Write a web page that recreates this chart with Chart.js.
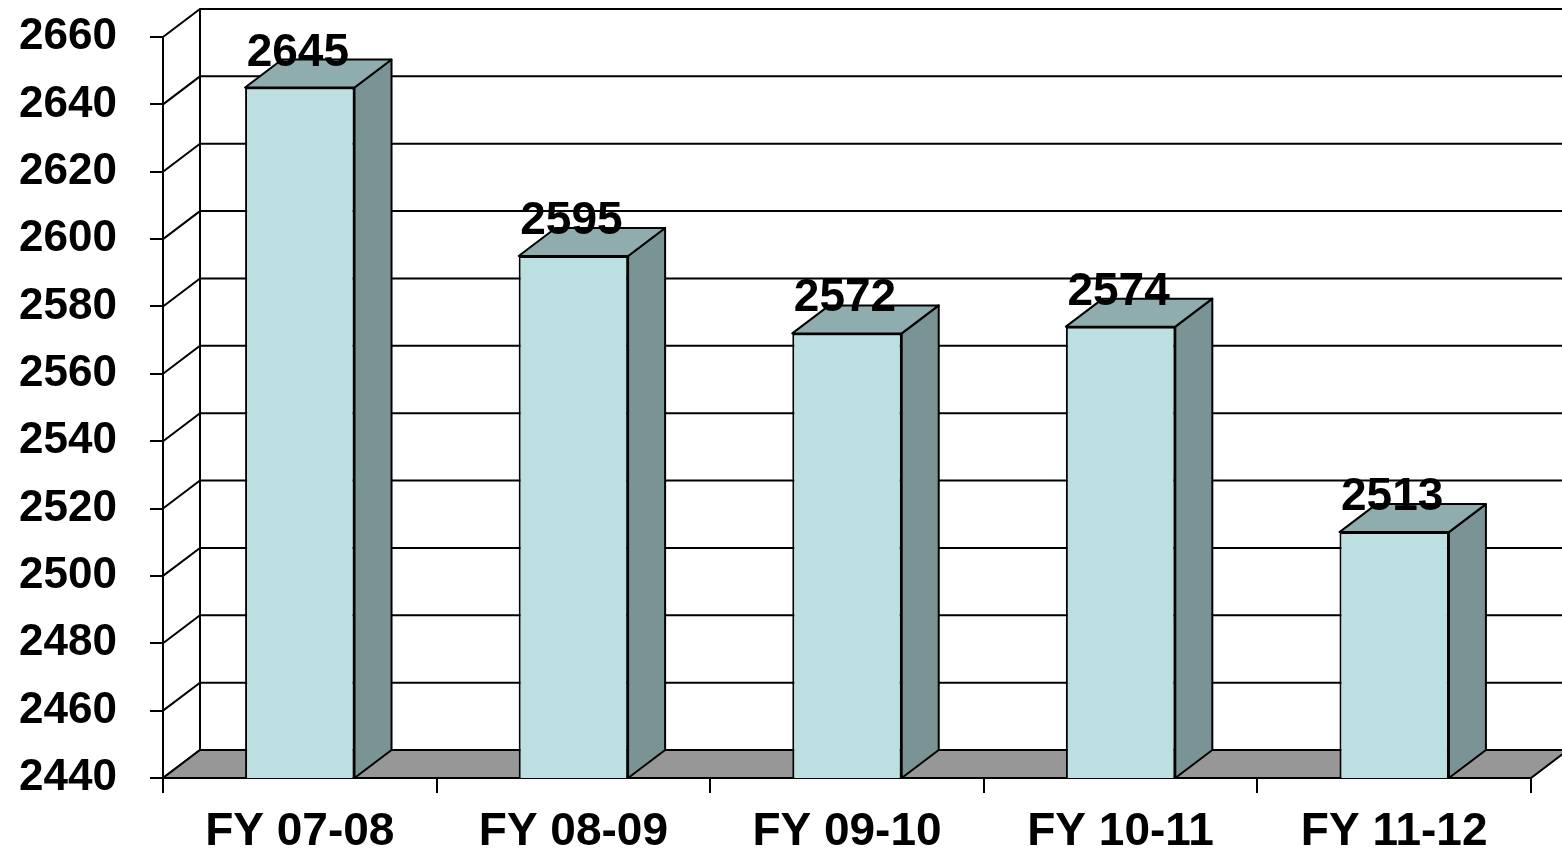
<!DOCTYPE html>
<html>
<head>
<meta charset="utf-8">
<script src="https://cdn.jsdelivr.net/npm/chart.js@4"></script>
<style>
  body { margin: 0; background: #fff; }
  #wrap { width: 1562px; height: 856px; }
</style>
</head>
<body>
<div id="wrap"><canvas id="myChart"></canvas></div>
<script>
// data
const years = ['FY 07-08', 'FY 08-09', 'FY 09-10', 'FY 10-11', 'FY 11-12'];
const counts = [2645, 2595, 2572, 2574, 2513];
const yMin = 2440, yMax = 2660, yStep = 20;

// depth of the fake 3d box
const DX = 37, DY = -28;

const box3d = {
  id: 'box3d',
  beforeDatasetsDraw(chart) {
    const ctx = chart.ctx, a = chart.chartArea, y = chart.scales.y;
    ctx.save();
    ctx.strokeStyle = '#000';
    ctx.lineWidth = 2;
    // back wall + side wall lines
    for (let v = yMin; v <= yMax; v += yStep) {
      const py = y.getPixelForValue(v);
      ctx.beginPath();
      ctx.moveTo(a.left, py);
      ctx.lineTo(a.left + DX, py + DY);
      ctx.lineTo(chart.width, py + DY);
      ctx.stroke();
    }
    ctx.beginPath();
    ctx.moveTo(a.left + DX, y.getPixelForValue(yMax) + DY);
    ctx.lineTo(a.left + DX, a.bottom + DY);
    ctx.stroke();
    // floor
    ctx.fillStyle = '#979797';
    ctx.beginPath();
    ctx.moveTo(a.left, a.bottom);
    ctx.lineTo(a.right, a.bottom);
    ctx.lineTo(a.right + DX, a.bottom + DY);
    ctx.lineTo(a.left + DX, a.bottom + DY);
    ctx.closePath();
    ctx.fill();
    ctx.stroke();
    ctx.restore();
  },
  afterDatasetsDraw(chart) {
    const ctx = chart.ctx, a = chart.chartArea;
    const meta = chart.getDatasetMeta(0);
    ctx.save();
    ctx.strokeStyle = '#000';
    ctx.lineWidth = 2;
    ctx.lineJoin = 'round';
    meta.data.forEach((bar, i) => {
      const l = bar.x - bar.width / 2, r = bar.x + bar.width / 2;
      const t = bar.y, b = Math.min(bar.base, a.bottom);
      // side
      ctx.fillStyle = '#7a9394';
      ctx.beginPath();
      ctx.moveTo(r, t); ctx.lineTo(r + DX, t + DY);
      ctx.lineTo(r + DX, b + DY); ctx.lineTo(r, b);
      ctx.closePath(); ctx.fill(); ctx.stroke();
      // top
      ctx.fillStyle = '#8fadaf';
      ctx.beginPath();
      ctx.moveTo(l, t); ctx.lineTo(r, t);
      ctx.lineTo(r + DX, t + DY); ctx.lineTo(l + DX, t + DY);
      ctx.closePath(); ctx.fill(); ctx.stroke();
      // value label
      ctx.fillStyle = '#000';
      ctx.font = 'bold 46px "Liberation Sans", Arial, sans-serif';
      ctx.textAlign = 'center';
      ctx.textBaseline = 'alphabetic';
      ctx.fillText(counts[i], bar.x - 2, t - 22);
    });
    ctx.restore();
  }
};

new Chart(document.getElementById('myChart'), {
  type: 'bar',
  data: {
    labels: years,
    datasets: [{
      data: counts,
      backgroundColor: '#bce0e2',
      borderColor: '#000',
      borderWidth: 2,
      categoryPercentage: 1,
      barPercentage: 0.4
    }]
  },
  options: {
    responsive: true,
    maintainAspectRatio: false,
    animation: false,
    layout: { padding: { top: 37, right: 31, left: 0, bottom: 0 } },
    plugins: { legend: { display: false }, tooltip: { enabled: false } },
    scales: {
      x: {
        grid: { drawOnChartArea: false, tickLength: 15, color: '#000', lineWidth: 2 },
        border: { color: '#000', width: 2 },
        ticks: { color: '#000', padding: 12, font: { family: 'Liberation Sans', size: 46, weight: 'bold' } },
        afterFit: s => { s.height = 78; }
      },
      y: {
        min: yMin, max: yMax,
        grid: { drawOnChartArea: false, tickLength: 13, color: '#000', lineWidth: 2 },
        border: { color: '#000', width: 2 },
        ticks: {
          stepSize: yStep, color: '#000', padding: 33,
          font: { family: 'Liberation Sans', size: 44, weight: 'bold' },
          callback: v => String(v)
        },
        afterFit: s => { s.width = 163; s.paddingTop = 0; s.paddingBottom = 0; }
      }
    }
  },
  plugins: [box3d]
});
</script>
</body>
</html>
